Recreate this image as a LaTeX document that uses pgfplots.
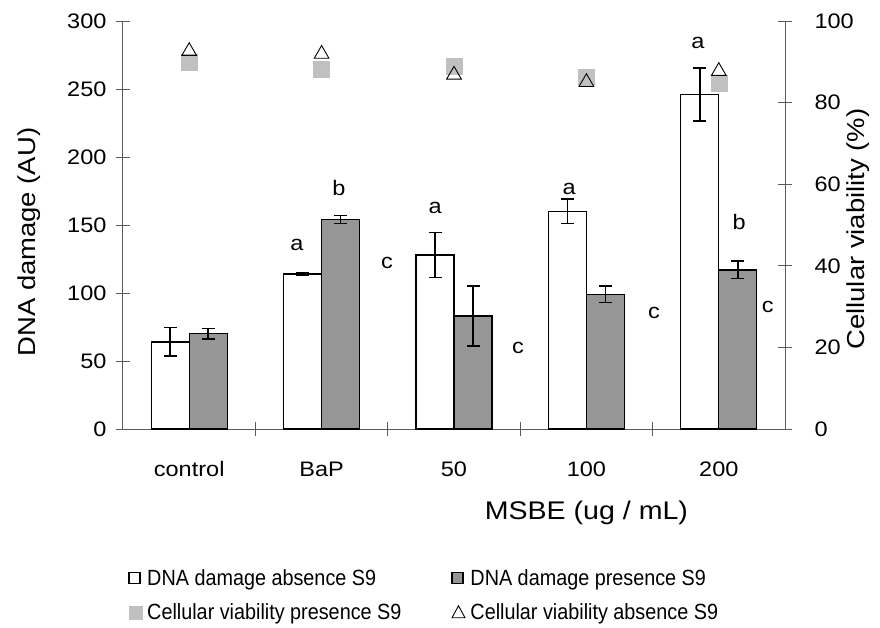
\documentclass[border=0pt]{standalone}
\usepackage{fontspec}
\setmainfont{Liberation Sans}
\newfontfamily\wideface[FakeStretch=1.12]{Liberation Sans}
\newfontfamily\narrowface[FakeStretch=0.9]{Liberation Sans}
\usepackage{pgfplots}
\pgfplotsset{compat=1.18}
\definecolor{barg}{HTML}{969696}
\definecolor{sqg}{HTML}{C0C0C0}
\definecolor{axg}{HTML}{5A5A5A}
\newcommand{\fsT}{\wideface\fontsize{21}{25}\selectfont}
\newcommand{\fsL}{\wideface\fontsize{24.5}{29}\selectfont}
\newcommand{\fsX}{\wideface\fontsize{25.5}{30}\selectfont}
\newcommand{\fsG}{\narrowface\fontsize{22}{26}\selectfont}
\begin{document}
\begin{tikzpicture}
\pgfplotsset{
  every axis/.append style={
    scale only axis, width=662pt, height=408pt,
    xmin=-0.5, xmax=4.5,
    font=\fsT,
    tick label style={font=\fsT},
    label style={font=\fsL},
    /pgf/number format/assume math mode=true,
    axis line style={axg, line width=1pt},
    tick align=center, major tick length=14pt, minor tick length=14pt,
    every tick/.style={axg, line width=1pt},
  }
}
\begin{axis}[
  ymin=0, ymax=300,
  axis x line*=bottom, axis y line*=left,
  xtick={0,1,2,3,4}, xticklabels={control,BaP,50,100,200},
  minor xtick={0.5,1.5,2.5,3.5},
  major x tick style={draw=none},
  xticklabel style={anchor=base, yshift=-40pt},
  ytick={0,50,...,300},
  yticklabel style={anchor=east, xshift=-6pt},
  xlabel={MSBE (ug / mL)},
  ylabel={DNA damage (AU)},
  every axis x label/.style={at={(axis description cs:0.7,-0.2206)}, anchor=base, font=\fsX},
  every axis y label/.style={at={(axis description cs:-0.141,0.458)}, anchor=center, rotate=90, font=\fsL},
  error bars/error bar style={black, line width=1.5pt},
  error bars/error mark options={black, rotate=90, mark size=6.5pt, line width=1.5pt},
]
% DNA damage absence S9 (white), bars centred left of each category
\addplot[ybar, bar width=38pt, bar shift=0pt, fill=white, draw=black, line width=1.3pt,
  error bars/.cd, y dir=both, y explicit]
  coordinates {(-0.1435,64) +- (0,10.5) (0.8565,114) +- (0,1) (1.8565,128) +- (0,16.5) (2.8565,160) +- (0,9) (3.8565,246) +- (0,19.5)};
% DNA damage presence S9 (grey)
\addplot[ybar, bar width=38pt, bar shift=0pt, fill=barg, draw=black, line width=1.3pt,
  error bars/.cd, y dir=both, y explicit]
  coordinates {(0.1435,70) +- (0,4) (1.1435,154) +- (0,3) (2.1435,83) +- (0,22) (3.1435,99) +- (0,6) (4.1435,117) +- (0,6.5)};
\node[font=\fsT] at (axis cs:0.814,135) {a};
\node[font=\fsT] at (axis cs:1.131,177) {b};
\node[font=\fsT] at (axis cs:1.494,122) {c};
\node[font=\fsT] at (axis cs:1.857,162.5) {a};
\node[font=\fsT] at (axis cs:2.483,59.6) {c};
\node[font=\fsT] at (axis cs:2.869,176.5) {a};
\node[font=\fsT] at (axis cs:3.51,85) {c};
\node[font=\fsT] at (axis cs:3.843,284) {a};
\node[font=\fsT] at (axis cs:4.153,152) {b};
\node[font=\fsT] at (axis cs:4.37,89.7) {c};
\end{axis}
\begin{axis}[
  ymin=0, ymax=100,
  axis x line=none, axis y line*=right,
  ytick={0,20,...,100},
  yticklabel style={anchor=west, xshift=19pt},
  ylabel={Cellular viability (\%)},
  every axis y label/.style={at={(axis description cs:1.11,0.49)}, anchor=center, rotate=90, font=\fsL},
  legend style={at={(axis description cs:0.008,-0.338)}, anchor=north west, draw=none, fill=none,
    font=\fsG, legend columns=2, row sep=13pt, inner sep=0pt,
    /tikz/every odd column/.append style={column sep=3pt},
    /tikz/every even column/.append style={column sep=48pt}},
  legend cell align=left,
]
\addlegendimage{legend image code/.code={\draw[black, fill=white, line width=1.1pt] (0pt,-5.5pt) rectangle (11pt,5.5pt);}}
\addlegendimage{legend image code/.code={\draw[black, fill=barg, line width=1.1pt] (0pt,-5.5pt) rectangle (11pt,5.5pt);}}
\addplot[sqg, only marks, mark=square*, mark size=8pt, mark options={fill=sqg, draw=sqg},
  legend image code/.code={\fill[sqg] (0pt,-6.5pt) rectangle (13pt,6.5pt);}]
  coordinates {(0,89.8) (1,88.2) (2,89) (3,86.3) (4,84.8)};
\addplot[black, only marks, mark=triangle, mark size=8.5pt, mark options={draw=black, fill=white, line width=0.9pt},
  legend image code/.code={\draw[black, line width=0.9pt] (0pt,-5.5pt) -- (13pt,-5.5pt) -- (6.5pt,6.5pt) -- cycle;}]
  coordinates {(0,92.6) (1,91.9) (2,86.8) (3,85) (4,87.7)};
\legend{DNA damage absence S9, DNA damage presence S9, Cellular viability presence S9, Cellular viability absence S9}
\end{axis}
\pgfresetboundingbox
\path (-123pt,-198pt) rectangle (757pt,429pt);
\end{tikzpicture}
\end{document}
